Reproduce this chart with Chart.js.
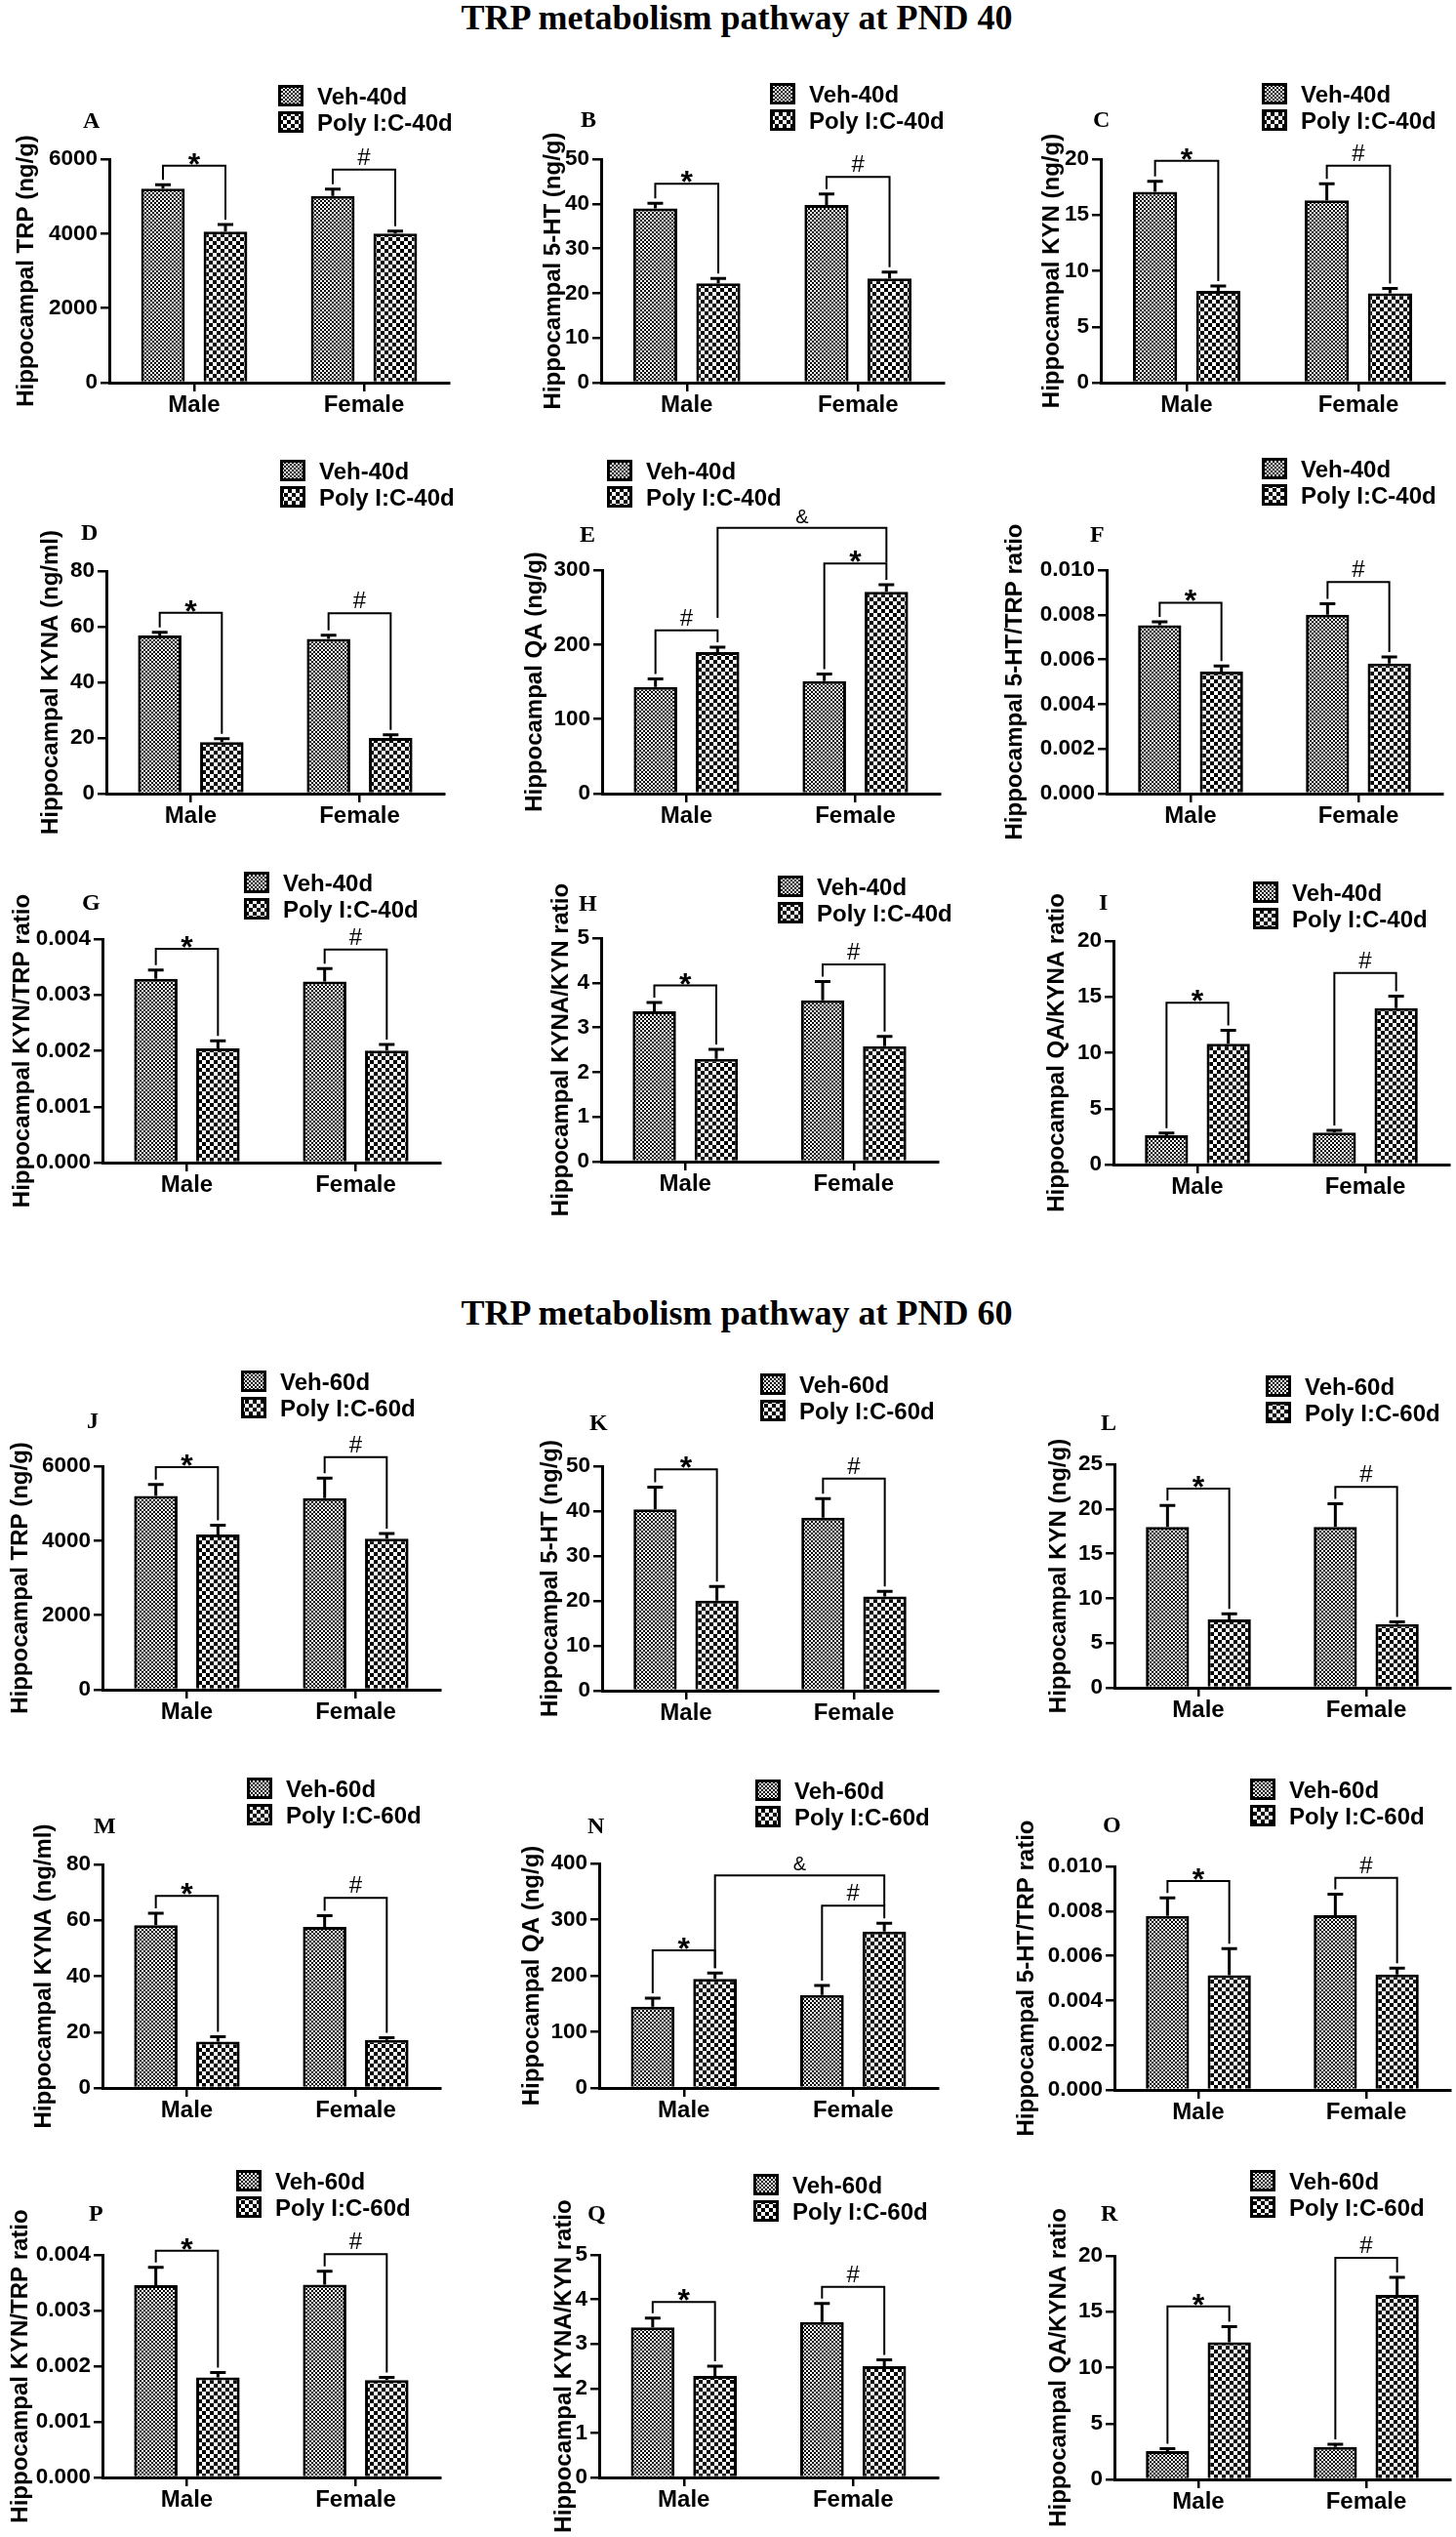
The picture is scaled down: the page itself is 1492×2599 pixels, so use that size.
<!DOCTYPE html>
<html>
<head>
<meta charset="utf-8">
<script src="https://cdn.jsdelivr.net/npm/chart.js@4.4.1/dist/chart.umd.min.js"></script>
<style>
  html, body { margin: 0; padding: 0; background: #fff; }
  body { width: 1492px; height: 2599px; position: relative; overflow: hidden; }
  .figTitle {
    position: absolute; left: 0; width: 1510px; text-align: center;
    font: bold 36px "Liberation Serif", "Times New Roman", serif; line-height: 36px;
    color: #000; white-space: nowrap;
  }
  canvas { position: absolute; }
</style>
</head>
<body>
<div class="figTitle" style="top:0px">TRP metabolism pathway at PND 40</div>
<div class="figTitle" style="top:1327px">TRP metabolism pathway at PND 60</div>
<script>
(() => {
  "use strict";

  const SEXES = ["Male", "Female"];
  const LEG40 = ["Veh-40d", "Poly I:C-40d"];
  const LEG60 = ["Veh-60d", "Poly I:C-60d"];

  // means and SEM, [Male, Female]; sig = [label, cat1, set1, cat2, set2, y, legEnd1?, legEnd2?]
  // PND 40
  const A_VEH = [5210, 5010], A_VEH_SEM = [105, 185], A_POLY = [4055, 4000], A_POLY_SEM = [190, 70];
  const A_TICKS = ["0", "2000", "4000", "6000"];
  const A_SIG = [["*", 0, 0, 0, 1, 5825], ["#", 1, 0, 1, 1, 5720]];

  const B_VEH = [39.0, 39.75], B_VEH_SEM = [1.1, 2.45], B_POLY = [22.2, 23.3], B_POLY_SEM = [1.1, 1.4];
  const B_TICKS = ["0", "10", "20", "30", "40", "50"];
  const B_SIG = [["*", 0, 0, 0, 1, 44.5], ["#", 1, 0, 1, 1, 46.0]];

  const C_VEH = [17.07, 16.3], C_VEH_SEM = [0.95, 1.5], C_POLY = [8.2, 8.0], C_POLY_SEM = [0.45, 0.43];
  const C_TICKS = ["0", "5", "10", "15", "20"];
  const C_SIG = [["*", 0, 0, 0, 1, 19.85], ["#", 1, 0, 1, 1, 19.4]];

  const D_VEH = [56.8, 55.6], D_VEH_SEM = [1.2, 1.3], D_POLY = [18.5, 20.0], D_POLY_SEM = [1.2, 1.1];
  const D_TICKS = ["0", "20", "40", "60", "80"];
  const D_SIG = [["*", 0, 0, 0, 1, 65.0], ["#", 1, 0, 1, 1, 64.8]];

  const E_VEH = [143, 151], E_VEH_SEM = [11, 9.5], E_POLY = [190, 271], E_POLY_SEM = [6.5, 9.5];
  const E_TICKS = ["0", "100", "200", "300"];
  const E_SIG = [["#", 0, 0, 0, 1, 219], ["*", 1, 0, 1, 1, 308.7], ["&", 0, 1, 1, 1, 356.8, 235.8, 310]];

  const F_VEH = [0.00753, 0.0080], F_VEH_SEM = [0.00016, 0.00049], F_POLY = [0.00546, 0.00582], F_POLY_SEM = [0.00025, 0.00029];
  const F_TICKS = ["0.000", "0.002", "0.004", "0.006", "0.008", "0.010"];
  const F_SIG = [["*", 0, 0, 0, 1, 0.00854], ["#", 1, 0, 1, 1, 0.00946]];

  const G_VEH = [0.00329, 0.00324], G_VEH_SEM = [0.000157, 0.000233], G_POLY = [0.002044, 0.002003], G_POLY_SEM = [0.000134, 0.000111];
  const G_TICKS = ["0.000", "0.001", "0.002", "0.003", "0.004"];
  const G_SIG = [["*", 0, 0, 0, 1, 0.003825], ["#", 1, 0, 1, 1, 0.003813]];

  const H_VEH = [3.365, 3.61], H_VEH_SEM = [0.195, 0.42], H_POLY = [2.30, 2.58], H_POLY_SEM = [0.21, 0.22];
  const H_TICKS = ["0", "1", "2", "3", "4", "5"];
  const H_SIG = [["*", 0, 0, 0, 1, 3.94], ["#", 1, 0, 1, 1, 4.41]];

  const I_VEH = [2.62, 2.85], I_VEH_SEM = [0.2, 0.2], I_POLY = [10.81, 14.0], I_POLY_SEM = [1.19, 1.06];
  const I_TICKS = ["0", "5", "10", "15", "20"];
  const I_SIG = [["*", 0, 0, 0, 1, 14.48], ["#", 1, 0, 1, 1, 17.15]];

  // PND 60
  const J_VEH = [5198, 5145], J_VEH_SEM = [314, 532], J_POLY = [4169, 4055], J_POLY_SEM = [244, 140];
  const J_TICKS = ["0", "2000", "4000", "6000"];
  const J_SIG = [["*", 0, 0, 0, 1, 5974], ["#", 1, 0, 1, 1, 6244]];

  const K_VEH = [40.36, 38.55], K_VEH_SEM = [4.94, 4.2], K_POLY = [20.07, 21.0], K_POLY_SEM = [3.13, 1.1];
  const K_TICKS = ["0", "10", "20", "30", "40", "50"];
  const K_SIG = [["*", 0, 0, 0, 1, 49.3], ["#", 1, 0, 1, 1, 47.25]];

  const L_VEH = [17.99, 17.99], L_VEH_SEM = [2.39, 2.58], L_POLY = [7.63, 7.12], L_POLY_SEM = [0.65, 0.26];
  const L_TICKS = ["0", "5", "10", "15", "20", "25"];
  const L_SIG = [["*", 0, 0, 0, 1, 22.27], ["#", 1, 0, 1, 1, 22.46]];

  const M_VEH = [58.26, 57.67], M_VEH_SEM = [4.3, 3.96], M_POLY = [16.63, 17.2], M_POLY_SEM = [1.74, 0.82];
  const M_TICKS = ["0", "20", "40", "60", "80"];
  const M_SIG = [["*", 0, 0, 0, 1, 68.72], ["#", 1, 0, 1, 1, 68.02]];

  const N_VEH = [144.9, 165.8], N_VEH_SEM = [15.1, 16.8], N_POLY = [194.2, 278.8], N_POLY_SEM = [10.4, 14.5];
  const N_TICKS = ["0", "100", "200", "300", "400"];
  const N_SIG = [["*", 0, 0, 0, 1, 245.2], ["#", 1, 0, 1, 1, 324.6], ["&", 0, 1, 1, 1, 378.6, null, 324.6]];

  const O_VEH = [0.00778, 0.00782], O_VEH_SEM = [0.00081, 0.00094], O_POLY = [0.00513, 0.00516], O_POLY_SEM = [0.00119, 0.00029];
  const O_TICKS = ["0.000", "0.002", "0.004", "0.006", "0.008", "0.010"];
  const O_SIG = [["*", 0, 0, 0, 1, 0.00935], ["#", 1, 0, 1, 1, 0.00949]];

  const P_VEH = [0.003457, 0.003463], P_VEH_SEM = [0.000321, 0.000245], P_POLY = [0.001799, 0.001752], P_POLY_SEM = [0.000087, 0.000047];
  const P_TICKS = ["0.000", "0.001", "0.002", "0.003", "0.004"];
  const P_SIG = [["*", 0, 0, 0, 1, 0.004076], ["#", 1, 0, 1, 1, 0.004012]];

  const Q_VEH = [3.37, 3.49], Q_VEH_SEM = [0.21, 0.42], Q_POLY = [2.28, 2.50], Q_POLY_SEM = [0.22, 0.14];
  const Q_TICKS = ["0", "1", "2", "3", "4", "5"];
  const Q_SIG = [["*", 0, 0, 0, 1, 3.94], ["#", 1, 0, 1, 1, 4.28]];

  const R_VEH = [2.53, 2.91], R_VEH_SEM = [0.23, 0.23], R_POLY = [12.27, 16.51], R_POLY_SEM = [1.39, 1.57];
  const R_TICKS = ["0", "5", "10", "15", "20"];
  const R_SIG = [["*", 0, 0, 0, 1, 15.47], ["#", 1, 0, 1, 1, 19.83]];

  const T_TRP = "Hippocampal TRP (ng/g)", T_5HT = "Hippocampal 5-HT (ng/g)", T_KYN = "Hippocampal KYN (ng/g)";
  const T_KYNA = "Hippocampal KYNA (ng/ml)", T_QA = "Hippocampal QA (ng/g)", T_5HTR = "Hippocampal 5-HT/TRP ratio";
  const T_KYNR = "Hippocampal KYN/TRP ratio", T_KYNAR = "Hippocampal KYNA/KYN ratio", T_QAR = "Hippocampal QA/KYNA ratio";

  // layout, page px: ax/ex = y-axis x / x-axis end, ty/zy = top tick / zero, tOff = axis title offset
  const PANELS = [
    { id: "A", t: T_TRP,   leg: LEG40, d: [A_VEH, A_VEH_SEM, A_POLY, A_POLY_SEM], ticks: A_TICKS, sig: A_SIG, ax: 112, ex: 460, ty: 163, zy: 392, tOff: 85, let: [85, 131], key: [285, 87] },
    { id: "B", t: T_5HT,   leg: LEG40, d: [B_VEH, B_VEH_SEM, B_POLY, B_POLY_SEM], ticks: B_TICKS, sig: B_SIG, ax: 616, ex: 967, ty: 163, zy: 392, tOff: 49, let: [595, 130], key: [789, 85] },
    { id: "C", t: T_KYN,   leg: LEG40, d: [C_VEH, C_VEH_SEM, C_POLY, C_POLY_SEM], ticks: C_TICKS, sig: C_SIG, ax: 1128, ex: 1480, ty: 163, zy: 392, tOff: 50, let: [1120, 130], key: [1293, 85] },
    { id: "D", t: T_KYNA,  leg: LEG40, d: [D_VEH, D_VEH_SEM, D_POLY, D_POLY_SEM], ticks: D_TICKS, sig: D_SIG, ax: 109, ex: 455, ty: 585, zy: 813, tOff: 57, let: [83, 553], key: [287, 471] },
    { id: "E", t: T_QA,    leg: LEG40, d: [E_VEH, E_VEH_SEM, E_POLY, E_POLY_SEM], ticks: E_TICKS, sig: E_SIG, ax: 617, ex: 963, ty: 584, zy: 813, tOff: 69, let: [594, 555], key: [622, 471] },
    { id: "F", t: T_5HTR,  leg: LEG40, d: [F_VEH, F_VEH_SEM, F_POLY, F_POLY_SEM], ticks: F_TICKS, sig: F_SIG, ax: 1134, ex: 1478, ty: 584, zy: 813, tOff: 94, let: [1117, 555], key: [1293, 469] },
    { id: "G", t: T_KYNR,  leg: LEG40, d: [G_VEH, G_VEH_SEM, G_POLY, G_POLY_SEM], ticks: G_TICKS, sig: G_SIG, ax: 105, ex: 451, ty: 962, zy: 1191, tOff: 82, let: [84, 932], key: [250, 893] },
    { id: "H", t: T_KYNAR, leg: LEG40, d: [H_VEH, H_VEH_SEM, H_POLY, H_POLY_SEM], ticks: H_TICKS, sig: H_SIG, ax: 616, ex: 961, ty: 961, zy: 1190, tOff: 41, let: [593, 933], key: [797, 897] },
    { id: "I", t: T_QAR,   leg: LEG40, d: [I_VEH, I_VEH_SEM, I_POLY, I_POLY_SEM], ticks: I_TICKS, sig: I_SIG, ax: 1141, ex: 1485, ty: 964, zy: 1193, tOff: 58, let: [1126, 932], key: [1284, 903] },
    { id: "J", t: T_TRP,   leg: LEG60, d: [J_VEH, J_VEH_SEM, J_POLY, J_POLY_SEM], ticks: J_TICKS, sig: J_SIG, ax: 105, ex: 451, ty: 1502, zy: 1731, tOff: 84, let: [89, 1463], key: [247, 1404] },
    { id: "K", t: T_5HT,   leg: LEG60, d: [K_VEH, K_VEH_SEM, K_POLY, K_POLY_SEM], ticks: K_TICKS, sig: K_SIG, ax: 617, ex: 961, ty: 1502, zy: 1732, tOff: 53, let: [604, 1465], key: [779, 1407] },
    { id: "L", t: T_KYN,   leg: LEG60, d: [L_VEH, L_VEH_SEM, L_POLY, L_POLY_SEM], ticks: L_TICKS, sig: L_SIG, ax: 1142, ex: 1486, ty: 1500, zy: 1729, tOff: 57, let: [1128, 1465], key: [1297, 1409] },
    { id: "M", t: T_KYNA,  leg: LEG60, d: [M_VEH, M_VEH_SEM, M_POLY, M_POLY_SEM], ticks: M_TICKS, sig: M_SIG, ax: 105, ex: 451, ty: 1910, zy: 2139, tOff: 60, let: [96, 1878], key: [253, 1821] },
    { id: "N", t: T_QA,    leg: LEG60, d: [N_VEH, N_VEH_SEM, N_POLY, N_POLY_SEM], ticks: N_TICKS, sig: N_SIG, ax: 614, ex: 961, ty: 1909, zy: 2139, tOff: 69, let: [602, 1878], key: [774, 1823] },
    { id: "O", t: T_5HTR,  leg: LEG60, d: [O_VEH, O_VEH_SEM, O_POLY, O_POLY_SEM], ticks: O_TICKS, sig: O_SIG, ax: 1142, ex: 1486, ty: 1912, zy: 2141, tOff: 90, let: [1130, 1877], key: [1281, 1822] },
    { id: "P", t: T_KYNR,  leg: LEG60, d: [P_VEH, P_VEH_SEM, P_POLY, P_POLY_SEM], ticks: P_TICKS, sig: P_SIG, ax: 105, ex: 451, ty: 2310, zy: 2538, tOff: 84, let: [91, 2275], key: [242, 2223] },
    { id: "Q", t: T_KYNAR, leg: LEG60, d: [Q_VEH, Q_VEH_SEM, Q_POLY, Q_POLY_SEM], ticks: Q_TICKS, sig: Q_SIG, ax: 614, ex: 961, ty: 2310, zy: 2538, tOff: 36, let: [602, 2275], key: [772, 2227] },
    { id: "R", t: T_QAR,   leg: LEG60, d: [R_VEH, R_VEH_SEM, R_POLY, R_POLY_SEM], ticks: R_TICKS, sig: R_SIG, ax: 1142, ex: 1486, ty: 2311, zy: 2540, tOff: 57, let: [1128, 2275], key: [1281, 2223] }
  ];

  const SANS = "'Liberation Sans', Arial, sans-serif";
  const SERIF = "'Liberation Serif', 'Times New Roman', serif";
  const YW = 110, TOPPAD = 140, XH = 75, RPAD = 30;
  const TITLE_PX = 24;

  function pattern(chart, cell){
    chart.$pats = chart.$pats || {};
    if(!chart.$pats[cell]){
      const c = document.createElement("canvas");
      c.width = c.height = cell * 2;
      const g = c.getContext("2d");
      g.fillStyle = "#fff"; g.fillRect(0, 0, cell * 2, cell * 2);
      g.fillStyle = "#000"; g.fillRect(0, 0, cell, cell); g.fillRect(cell, cell, cell, cell);
      chart.$pats[cell] = chart.ctx.createPattern(c, "repeat");
    }
    return chart.$pats[cell];
  }

  const decor = {
    id: "decor",
    afterDatasetsDraw(chart){
      const o = chart.options.plugins.decor;
      const ctx = chart.ctx, ys = chart.scales.y;
      const errTop = (cat, set) => {
        const ds = chart.data.datasets[set];
        return ys.getPixelForValue(ds.data[cat] + ds.sem[cat]);
      };
      ctx.save();
      ctx.strokeStyle = "#000";
      ctx.lineCap = "butt";

      // error bars (upper only)
      ctx.lineWidth = 3;
      chart.data.datasets.forEach((ds, di) => {
        chart.getDatasetMeta(di).data.forEach((bar, i) => {
          const top = errTop(i, di);
          ctx.beginPath();
          ctx.moveTo(bar.x, bar.y); ctx.lineTo(bar.x, top);
          ctx.moveTo(bar.x - 8, top); ctx.lineTo(bar.x + 8, top);
          ctx.stroke();
        });
      });

      // significance brackets
      ctx.lineWidth = 2;
      ctx.fillStyle = "#000";
      ctx.textAlign = "center";
      o.sig.forEach(([lab, c1, s1, c2, s2, v, e1, e2]) => {
        const b1 = chart.getDatasetMeta(s1).data[c1];
        const b2 = chart.getDatasetMeta(s2).data[c2];
        const yy = ys.getPixelForValue(v);
        const y1 = e1 != null ? ys.getPixelForValue(e1) : errTop(c1, s1) - 5;
        const y2 = e2 != null ? ys.getPixelForValue(e2) : errTop(c2, s2) - 5;
        ctx.beginPath();
        ctx.moveTo(b1.x, y1); ctx.lineTo(b1.x, yy); ctx.lineTo(b2.x, yy); ctx.lineTo(b2.x, y2);
        ctx.stroke();
        const mx = (b1.x + b2.x) / 2;
        if(lab === "*"){ ctx.font = `bold 32px ${SANS}`; ctx.fillText(lab, mx, yy + 9); }
        else if(lab === "#"){ ctx.font = `24px ${SANS}`; ctx.fillText(lab, mx, yy - 5); }
        else { ctx.font = `20px ${SANS}`; ctx.fillText(lab, mx, yy - 5); }
      });
      ctx.restore();
    },
    afterDraw(chart){
      const o = chart.options.plugins.decor;
      const ctx = chart.ctx;
      ctx.save();
      // panel letter
      ctx.fillStyle = "#000";
      ctx.textAlign = "left";
      ctx.font = `bold 24px ${SERIF}`;
      ctx.fillText(o.id, o.letX, o.letY);
      // legend
      const cells = [2, 4];
      o.leg.forEach((txt, k) => {
        const bx = o.keyX, by = o.keyY + k * 27;
        ctx.fillStyle = pattern(chart, cells[k]);
        ctx.fillRect(bx, by, 26, 22);
        ctx.strokeStyle = "#000"; ctx.lineWidth = 3;
        ctx.strokeRect(bx + 1.5, by + 1.5, 23, 19);
        ctx.fillStyle = "#000";
        ctx.font = `bold 24px ${SANS}`;
        ctx.fillText(txt, bx + 40, by + 20);
      });
      ctx.restore();
    }
  };

  function build(p){
    const plotW = p.ex - p.ax, plotH = p.zy - p.ty;
    const left = p.ax - YW, top = p.ty - TOPPAD;
    const W = YW + plotW + RPAD, H = TOPPAD + plotH + XH;
    const cv = document.createElement("canvas");
    cv.width = W; cv.height = H;
    cv.style.left = left + "px"; cv.style.top = top + "px";
    cv.style.width = W + "px"; cv.style.height = H + "px";
    document.body.appendChild(cv);

    const [veh, vehSem, poly, polySem] = p.d;
    const tickVals = p.ticks.map(Number);
    const bar = { borderColor: "#000", borderWidth: 3, borderSkipped: "start", categoryPercentage: 0.736, barPercentage: 0.70 };

    new Chart(cv, {
      type: "bar",
      data: {
        labels: SEXES,
        datasets: [
          { ...bar, label: p.leg[0], data: veh, sem: vehSem, backgroundColor: c => pattern(c.chart, 2) },
          { ...bar, label: p.leg[1], data: poly, sem: polySem, backgroundColor: c => pattern(c.chart, 4) }
        ]
      },
      options: {
        responsive: false,
        animation: false,
        events: [],
        layout: { padding: { left: 0, top: TOPPAD, right: RPAD, bottom: 0 } },
        plugins: {
          legend: { display: false },
          tooltip: { enabled: false },
          decor: {
            id: p.id, sig: p.sig, leg: p.leg,
            letX: p.let[0] - left, letY: p.let[1] - top,
            keyX: p.key[0] - left, keyY: p.key[1] - top
          }
        },
        scales: {
          x: {
            afterFit: s => { s.height = XH; },
            ticks: { font: { family: SANS, size: 24, weight: "bold" }, color: "#000", padding: 0 },
            grid: { display: true, drawOnChartArea: false, drawTicks: true, tickLength: 9, color: "#000", lineWidth: 2.5, offset: false },
            border: { display: true, color: "#000", width: 3 }
          },
          y: {
            min: 0, max: tickVals[tickVals.length - 1],
            afterFit: s => { s.width = YW; },
            afterBuildTicks: s => { s.ticks = tickVals.map(v => ({ value: v })); },
            ticks: { callback: (v, i) => p.ticks[i], autoSkip: false, font: { family: SANS, size: 22.5, weight: "bold" }, color: "#000", padding: 3 },
            grid: { display: true, drawOnChartArea: false, drawTicks: true, tickLength: 9, color: "#000", lineWidth: 2.5 },
            border: { display: true, color: "#000", width: 3 },
            title: {
              display: true, text: p.t, color: "#000",
              font: { family: SANS, size: TITLE_PX, weight: "bold" },
              padding: { top: YW - p.tOff - TITLE_PX * 0.6, bottom: 0 }
            }
          }
        }
      },
      plugins: [decor]
    });
  }

  document.addEventListener("DOMContentLoaded", () => {
    PANELS.forEach(build);
  });
})();
</script>
</body>
</html>
